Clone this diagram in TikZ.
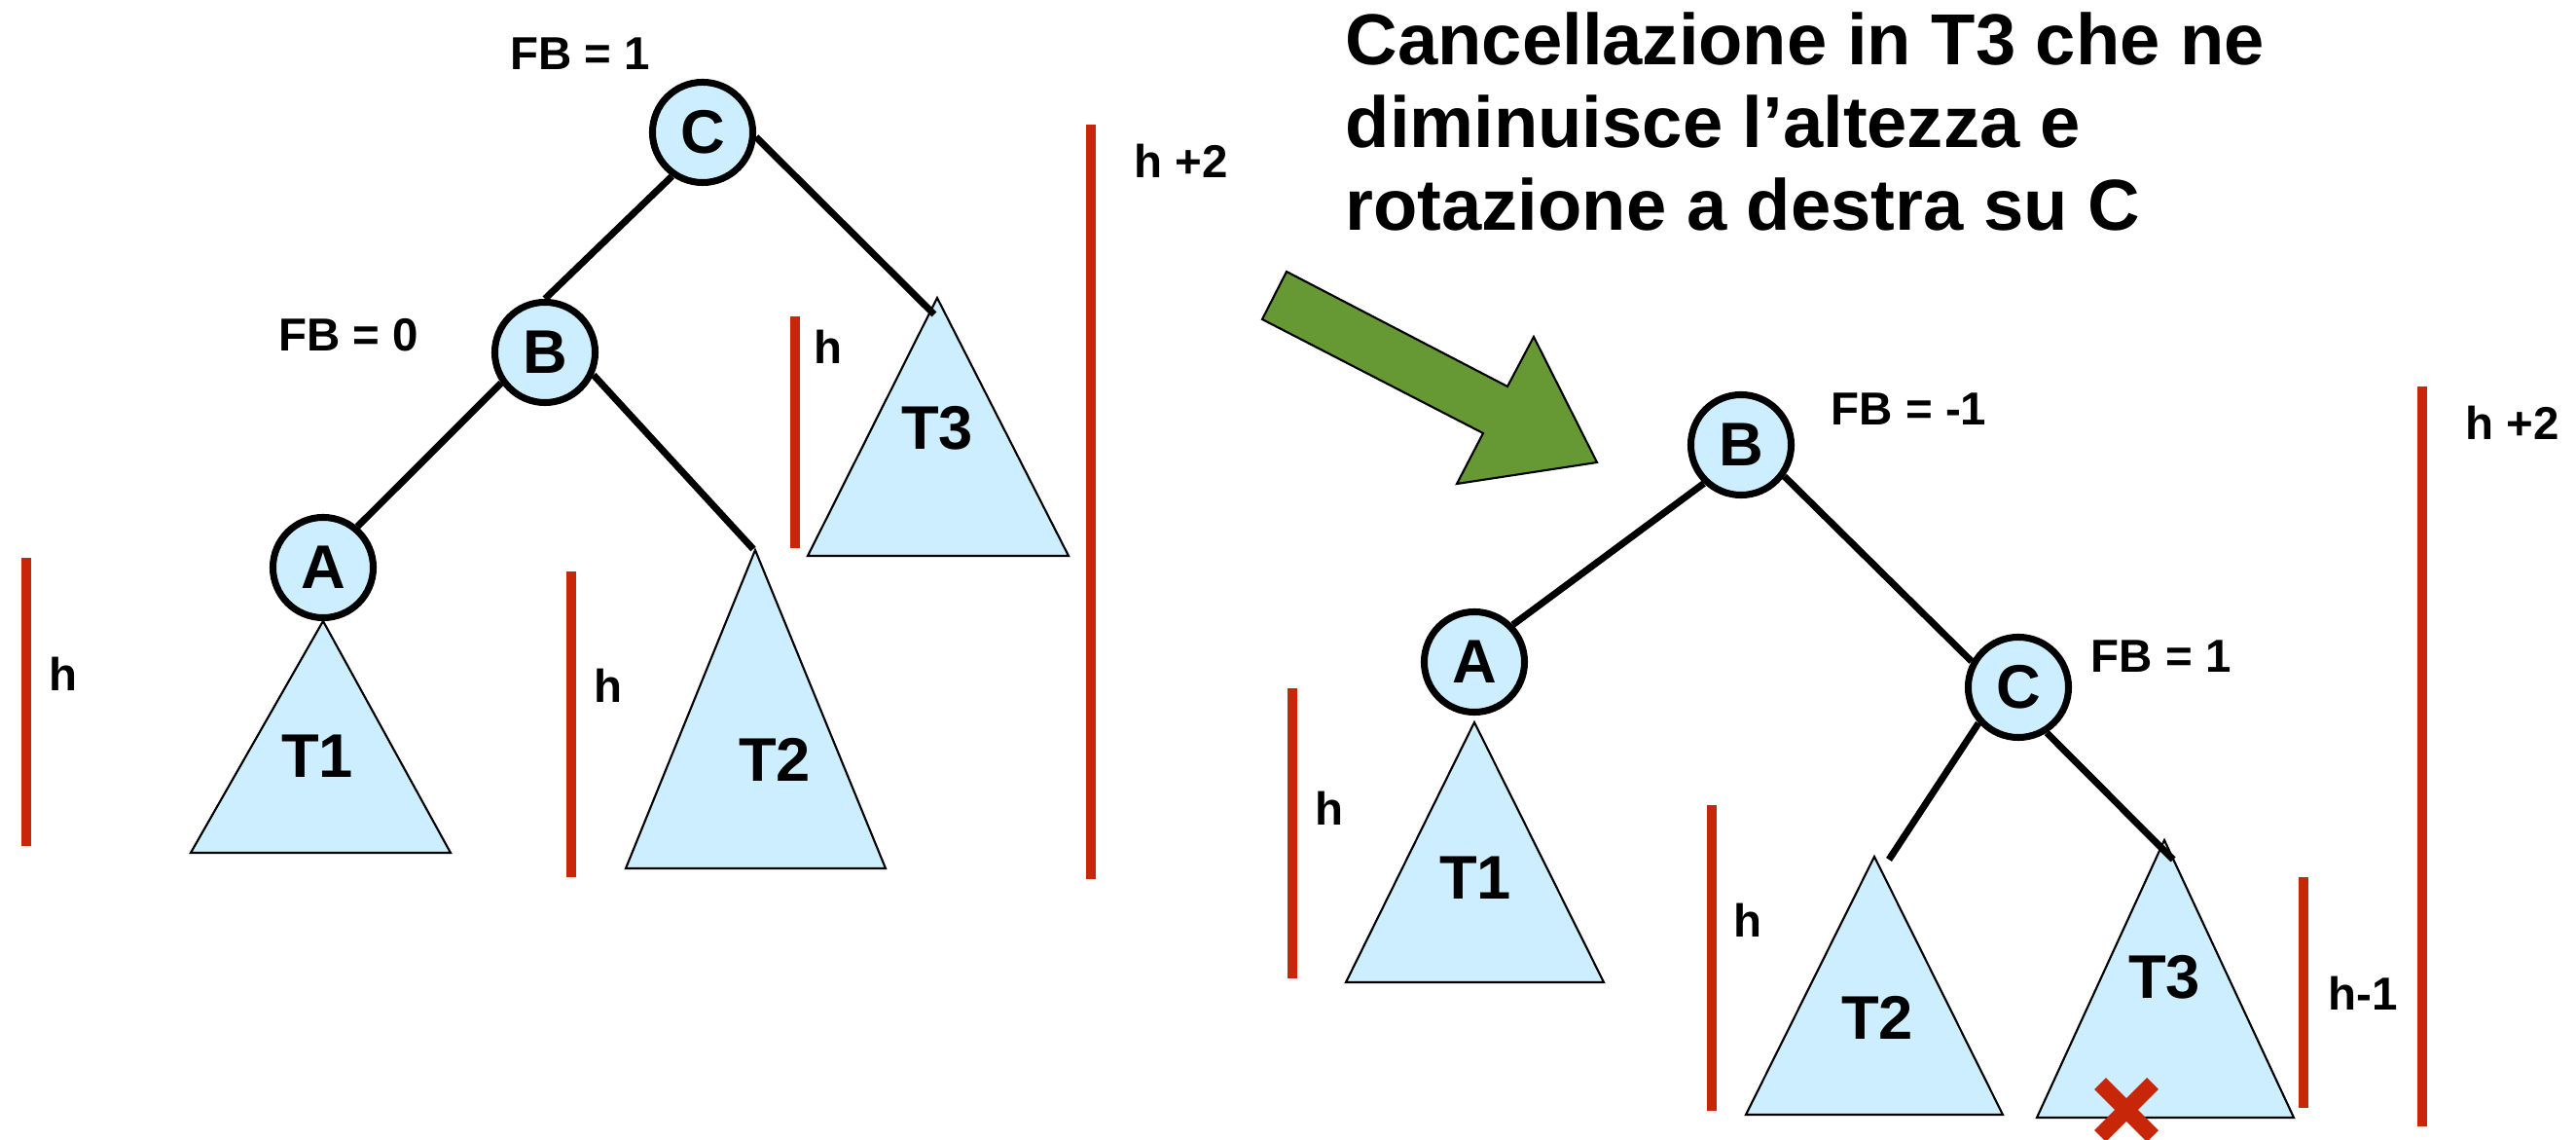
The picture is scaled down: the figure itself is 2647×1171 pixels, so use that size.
\documentclass[tikz,border=0pt]{standalone}
\usepackage{fontspec}
\setmainfont{Liberation Sans}
\usepackage{xcolor}
\usetikzlibrary{positioning, calc}
\definecolor{nodefill}{HTML}{CCEEFF}
\definecolor{barred}{HTML}{C82608}
\definecolor{arrowgreen}{HTML}{669933}

\begin{document}
\begin{tikzpicture}[
    x=0.01cm, y=-0.01cm,
    avl/.style={circle, draw, line width=2pt, fill=nodefill, minimum size=1.03cm, inner sep=0pt, font=\fontsize{18}{20}\selectfont\bfseries},
    subtree/.style={draw, line width=0.6pt, fill=nodefill},
    tname/.style={font=\fontsize{18}{20}\selectfont\bfseries, inner sep=0pt},
    lbl/.style={font=\fontsize{13.5}{15}\selectfont\bfseries, inner sep=0pt},
    hbar/.style={draw=barred, line width=2.8pt},
    link/.style={line width=2pt},
    caption/.style={font=\fontsize{21.1}{24.2}\selectfont\bfseries, align=left, inner sep=0pt},
  ]
    \useasboundingbox (0,0) rectangle (2647,1171);

    % albero prima della rotazione
    \node[avl] (lC) at (722,136) {C};
    \node[avl] (lB) at (560,362) {B};
    \node[avl] (lA) at (332,583) {A};
    \coordinate (lt1top) at (332,638);
    \coordinate (lt2top) at (776,565);
    \coordinate (lt3top) at (963,306);
    \coordinate (lt2end) at (774,564);
    \coordinate (lt3end) at (960,323);
    \filldraw[subtree] (lt1top) -- (196,876) -- (463,876) -- cycle;
    \filldraw[subtree] (lt2top) -- (643,892) -- (910,892) -- cycle;
    \filldraw[subtree] (lt3top) -- (830,571) -- (1098,571) -- cycle;
    \node[tname] (lT1) at (326,777) {T1};
    \node[tname] (lT2) at (796,780) {T2};
    \node[tname] (lT3) at (963,440) {T3};
    \draw[link] (lC.-125) -- (lB.90);
    \draw[link] (lC.-5) -- (lt3end);
    \draw[link] (lB.-25) -- (lt2end);
    \draw[link] (lB.-145) -- (lA.50);
    \node[lbl] (lfbC) at (596,55) {FB = 1};
    \node[lbl] (lfbB) at (358,344) {FB = 0};

    \draw[hbar] (27,573) -- (27,869);
    \draw[hbar] (587,587) -- (587,901);
    \draw[hbar] (817,325) -- (817,563);
    \draw[hbar] (1121,128) -- (1121,903);
    \node[lbl] (lh1) at (65,692) {h};
    \node[lbl] (lh2) at (625,704) {h};
    \node[lbl] (lh3) at (851,356) {h};
    \node[lbl, anchor=west] (lhtot) at (1165,165) {h +2};

    % freccia
    \filldraw[fill=arrowgreen, draw=black, line width=0.6pt]
      (1322,279) -- (1297,328) -- (1524,445) -- (1497,497) -- (1641,475) -- (1576,346) -- (1549,397) -- cycle;
    \node[caption, anchor=north west] (title) at (1382,12)
      {Cancellazione in T3 che ne\\diminuisce l’altezza e\\rotazione a destra su C};

    % albero dopo la rotazione
    \node[avl] (rB) at (1789,457) {B};
    \node[avl] (rA) at (1515,680) {A};
    \node[avl] (rC) at (2074,706) {C};
    \coordinate (rt1top) at (1515,742);
    \coordinate (rt2top) at (1926,880);
    \coordinate (rt3top) at (2224,863);
    \coordinate (rt2end) at (1941,883);
    \coordinate (rt3end) at (2233,883);
    \filldraw[subtree] (rt1top) -- (1383,1009) -- (1648,1009) -- cycle;
    \filldraw[subtree] (rt2top) -- (1794,1145) -- (2058,1145) -- cycle;
    \filldraw[subtree] (rt3top) -- (2093,1148) -- (2357,1148) -- cycle;
    \node[tname] (rT1) at (1516,902) {T1};
    \node[tname] (rT2) at (1929,1045) {T2};
    \node[tname] (rT3) at (2224,1004) {T3};
    \draw[link] (rB.-134) -- (rA.44);
    \draw[link] (rB.-36) -- (rC.151);
    \draw[link] (rC.-138) -- (rt2end);
    \draw[link] (rC.-58) -- (rt3end);
    \node[lbl, anchor=west] (rfbB) at (1881,420) {FB = -1};
    \node[lbl, anchor=west] (rfbC) at (2148,674) {FB = 1};

    \draw[hbar] (1328,707) -- (1328,1005);
    \draw[hbar] (1759,827) -- (1759,1141);
    \draw[hbar] (2367,901) -- (2367,1138);
    \draw[hbar] (2489,397) -- (2489,1157);
    \node[lbl] (rh1) at (1366,830) {h};
    \node[lbl] (rh2) at (1796,945) {h};
    \node[lbl] (rh3) at (2428,1020) {h-1};
    \node[lbl, anchor=west] (rhtot) at (2533,434) {h +2};

    \draw[barred, line width=4.8pt] (2158,1113) -- (2212,1167) (2158,1167) -- (2212,1113);
\end{tikzpicture}
\end{document}
